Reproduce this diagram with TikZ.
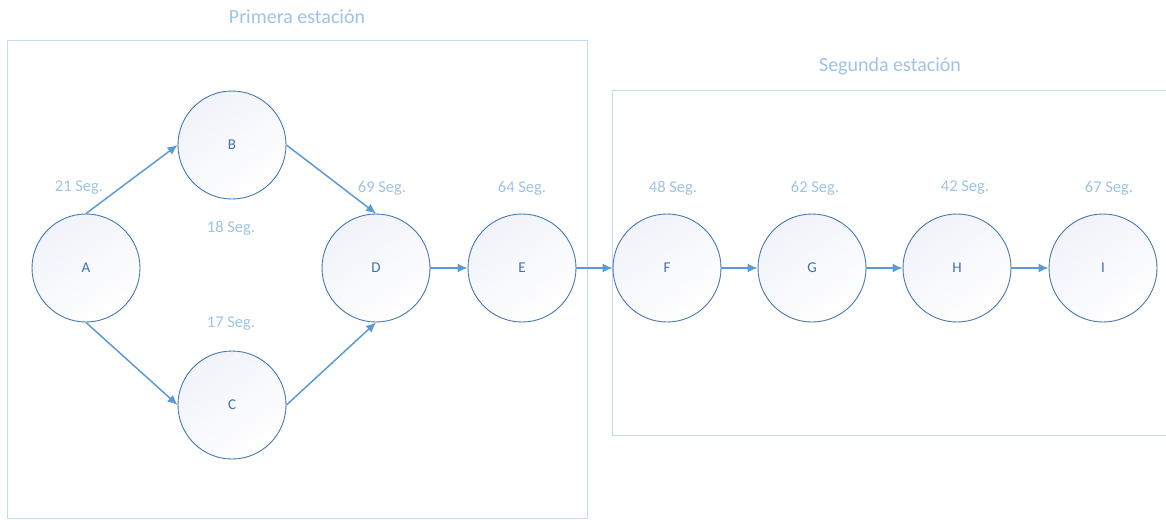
\documentclass[tikz,border=0pt]{standalone}
\usepackage{fontspec}
\setmainfont{Carlito}
\usetikzlibrary{arrows.meta}
\definecolor{nodeline}{HTML}{4677B0}
\definecolor{nodetext}{HTML}{4472A8}
\definecolor{arrowcol}{HTML}{5B9BD5}
\definecolor{labelcol}{HTML}{9DC3E6}
\definecolor{boxcol}{HTML}{C3DAF0}
\definecolor{fillcol}{HTML}{F1F3FA}
\tikzset{
  stnode/.style={circle, draw=nodeline, line width=0.9pt, minimum size=108pt, inner sep=0pt,
    shading=axis, top color=fillcol, bottom color=white, shading angle=35,
    text=nodetext, font=\fontsize{15}{15}\selectfont},
  conn/.style={draw=arrowcol, line width=1.5pt, -{Latex[length=10pt,width=9pt]}},
  seglabel/.style={text=labelcol, font=\fontsize{16.5}{16.5}\selectfont},
  stationbox/.style={draw=boxcol, line width=1pt},
  stationtitle/.style={text=labelcol, font=\fontsize{20}{20}\selectfont}
}
\begin{document}
\begin{tikzpicture}[x=1pt,y=-1pt]
\useasboundingbox (0,0) rectangle (1166,519);
\draw[stationbox] (7,41) rectangle (587,518);
\draw[stationbox] (612,90) rectangle (1175,435);
\node[stationtitle] (t1) at (297,17) {Primera estación};
\node[stationtitle] (t2) at (890,66) {Segunda estación};

\node[stnode] (A) at (86,268) {A};
\node[stnode] (B) at (232,145) {B};
\node[stnode] (C) at (232,405) {C};
\node[stnode] (D) at (376,268) {D};
\node[stnode] (E) at (522,268) {E};
\node[stnode] (F) at (667,268) {F};
\node[stnode] (G) at (812,268) {G};
\node[stnode] (H) at (957,268) {H};
\node[stnode] (I) at (1103,268) {I};

\node[seglabel] (lA) at (79,188) {21 Seg.};
\node[seglabel] (lB) at (231,228) {18 Seg.};
\node[seglabel] (lC) at (231,324) {17 Seg.};
\node[seglabel] (lD) at (382,188) {69 Seg.};
\node[seglabel] (lE) at (522,188) {64 Seg.};
\node[seglabel] (lF) at (673,188) {48 Seg.};
\node[seglabel] (lG) at (815,188) {62 Seg.};
\node[seglabel] (lH) at (965,188) {42 Seg.};
\node[seglabel] (lI) at (1109,188) {67 Seg.};

\draw[conn] (A.north) -- (B.west);
\draw[conn] (B.east) -- (D.north);
\draw[conn] (A.south) -- (C.west);
\draw[conn] (C.east) -- (D.south);
\draw[conn] (D) -- (E);
\draw[conn] (E) -- (F);
\draw[conn] (F) -- (G);
\draw[conn] (G) -- (H);
\draw[conn] (H) -- (I);
\end{tikzpicture}
\end{document}
